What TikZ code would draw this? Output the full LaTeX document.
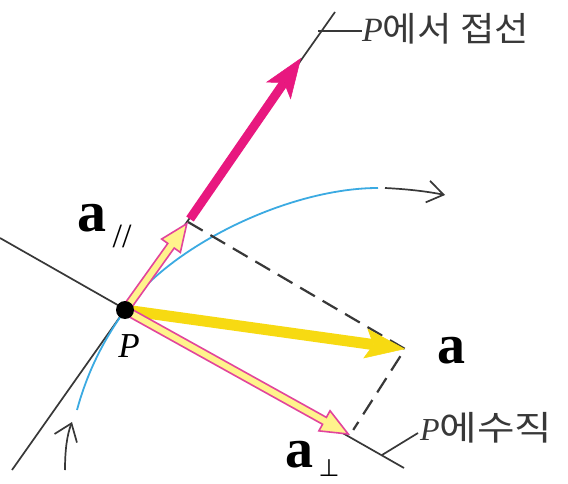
\documentclass[tikz,border=0pt]{standalone}
\usepackage{fontspec}
\setmainfont{Liberation Serif}
\newfontfamily\krfont[FakeStretch=1.1]{Noto Sans CJK KR}
\newfontfamily\krwide[FakeStretch=1.2]{Noto Sans CJK KR}
\newfontfamily\symfont{DejaVu Sans}
\usetikzlibrary{arrows.meta,calc}
\definecolor{magC}{HTML}{E8187F}
\definecolor{hmag}{HTML}{E2449C}
\definecolor{paleY}{HTML}{FFF38C}
\definecolor{yelC}{HTML}{F7DA12}
\definecolor{bluC}{HTML}{3BAAE2}
\definecolor{inkC}{HTML}{383838}
\begin{document}
\begin{tikzpicture}[x=1pt,y=-1pt,
  thinline/.style={inkC, line width=1.7pt},
  dashline/.style={inkC, line width=2.2pt, dash pattern=on 17pt off 9pt},
  lbl/.style={inner sep=0pt, text=black},
  hshaft/.style={hmag, line width=9.5pt},
  hhead/.style={hmag, line width=1.6pt, -{Triangle[length=30pt,width=25pt,fill=paleY]}},
  hfill/.style={paleY, line width=6pt},
]
\useasboundingbox (0,0) rectangle (568,484);
\fill[white] (0,0) rectangle (568,484);
\coordinate (P) at (125,310);
\coordinate (Apar) at (188,222);
\coordinate (Aperp) at (350,435);
\coordinate (A) at (405,349);
\coordinate (M0) at (190,219);
\coordinate (Mt) at (301,58);
\coordinate (T0) at (12,470);
\coordinate (T1) at (335,12);
\coordinate (N0) at (0,238);
\coordinate (N1) at (404,468);
\coordinate (B0) at (77,410);
\coordinate (B1) at (378,188);
\coordinate (C0) at (385,188);
\coordinate (C1) at (445,195);
\coordinate (U0) at (65,470);
\coordinate (U1) at (72,422);
\coordinate (L1) at (318,31);
\coordinate (L2) at (382,455);
\coordinate (L2b) at (418,433);
% lines
\draw[thinline] (T0) -- (T1);
\draw[thinline] (N0) -- (N1);
\draw[bluC, line width=1.8pt] (B0) .. controls (90,362) and (111,330) .. (P) .. controls (171,245) and (290,188) .. (B1);
\draw[thinline, -{Straight Barb[length=16pt,width=22pt]}] (C0) .. controls (405,189) and (425,191) .. (C1);
\draw[thinline, -{Straight Barb[length=16pt,width=24pt]}] (U0) .. controls (65,450) and (67,435) .. (U1);
\draw[dashline, shorten >=6pt] (Apar) -- (A) -- (Aperp);
% vectors
\draw[yelC, line width=11pt, -{Stealth[length=40pt,width=30pt,inset=8pt,line width=0.5pt]}] (P) -- (A);
\draw[hshaft, shorten >=24pt] (P) -- (Aperp);
\draw[hhead] ($(P)!0.7!(Aperp)$) -- (Aperp);
\draw[hfill, shorten >=21pt, shorten <=2pt] (P) -- (Aperp);
\draw[hshaft, shorten >=24pt] (P) -- (Apar);
\draw[hhead] ($(P)!0.4!(Apar)$) -- (Apar);
\draw[hfill, shorten >=21pt, shorten <=2pt] (P) -- (Apar);
\draw[magC, line width=9pt, -{Stealth[length=40pt,width=30pt,inset=10pt,line width=0.5pt]}] (M0) -- (Mt);
\node[circle, fill=black, inner sep=0pt, minimum size=18pt] (dot) at (P) {};
% leaders
\draw[thinline] (L1) -- (362,31);
\draw[thinline] (L2) -- (L2b);
% labels
\node[lbl, font=\fontsize{58}{58}\selectfont\bfseries] (apar) at (92,218) {a};
\node[lbl, font=\fontsize{34}{34}\selectfont] (par) at (122,236) {//};
\node[lbl, font=\fontsize{56}{56}\selectfont\bfseries] (alab) at (451,351) {a};
\node[lbl, font=\fontsize{56}{56}\selectfont\bfseries] (aperp) at (299,455) {a};
\node[lbl, font=\fontsize{24}{24}\selectfont\symfont] (perp) at (329,468) {⊥};
\node[lbl, font=\fontsize{35}{35}\selectfont\itshape] (plab) at (129,346) {P};
\node[lbl, anchor=west, font=\fontsize{34}{34}\selectfont, text=inkC] (tl) at (362,29) {\textit{P}{\krfont\fontsize{34}{34}\selectfont 에서 접선}};
\node[lbl, anchor=west, font=\fontsize{32}{32}\selectfont, text=inkC] (bl) at (420,428) {\textit{P}{\krwide\fontsize{34}{34}\selectfont 에수직}};
\end{tikzpicture}
\end{document}
